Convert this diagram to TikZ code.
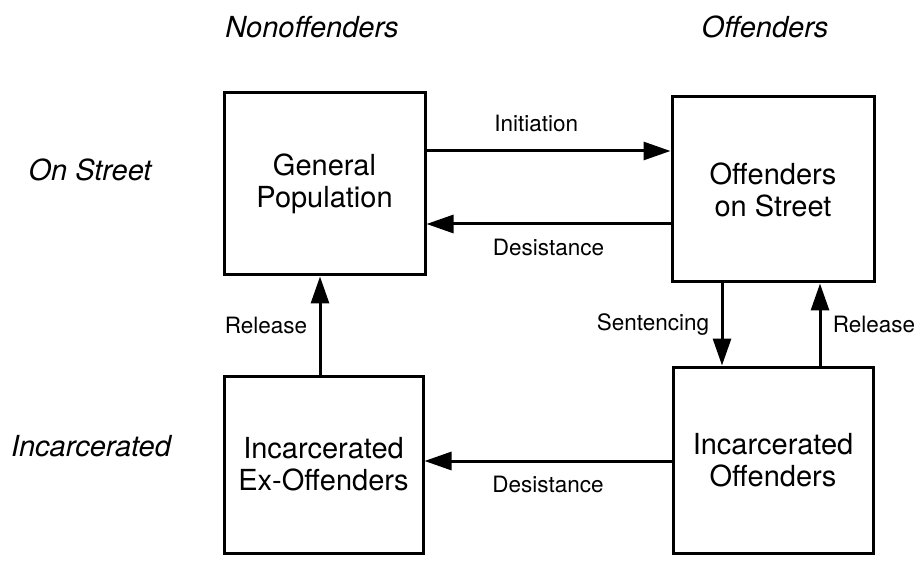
\documentclass[tikz,border=0pt]{standalone}
\usepackage{fontspec}
\setmainfont{TeX Gyre Heros}
\usetikzlibrary{arrows.meta}

\begin{document}
\begin{tikzpicture}[x=1pt, y=-1pt,
  stock/.style={draw, line width=3pt, align=center, inner sep=0pt,
    font=\fontsize{29}{32}\selectfont},
  flow/.style={line width=3pt, -{Triangle[length=27pt, width=18pt]}},
  lbl/.style={font=\fontsize{22.5}{26}\selectfont},
  hdr/.style={font=\fontsize{29}{33}\selectfont\itshape}]
  \useasboundingbox (0,0) rectangle (921,561);
  % the four stocks
  \node[stock, minimum width=201pt, minimum height=182pt] (gp) at (324.5,184) {General\\Population};
  \node[stock, minimum width=202pt, minimum height=185pt] (os) at (773,189.5) {Offenders\\on Street};
  \node[stock, minimum width=199pt, minimum height=177pt] (ex) at (323.5,464.5) {Incarcerated\\Ex-Offenders};
  \node[stock, minimum width=200pt, minimum height=186pt] (io) at (773,460) {Incarcerated\\Offenders};
  % row and column headings
  \node[hdr] (nonoff) at (312,27) {Nonoffenders};
  \node[hdr] (off) at (765,27) {Offenders};
  \node[hdr] (street) at (90,170) {On Street};
  \node[hdr] (incar) at (91,446) {Incarcerated};
  % flows
  \draw[flow] (gp.east |- 0,151) -- node[lbl, pos=0.45, above=14pt] {Initiation} (os.west |- 0,151);
  \draw[flow] (os.west |- 0,224) -- node[lbl, below=10pt] {Desistance} (gp.east |- 0,224);
  \draw[flow] (ex.north -| 320,0) -- node[lbl, left=8pt] {Release} (gp.south -| 320,0);
  \draw[flow] (os.south -| 722,0) -- node[lbl, left=8pt] {Sentencing} (io.north -| 722,0);
  \draw[flow] (io.north -| 820,0) -- node[lbl, right=8pt] {Release} (os.south -| 820,0);
  \draw[flow] (io.west |- 0,461) -- node[lbl, below=10pt] {Desistance} (ex.east |- 0,461);
\end{tikzpicture}
\end{document}
